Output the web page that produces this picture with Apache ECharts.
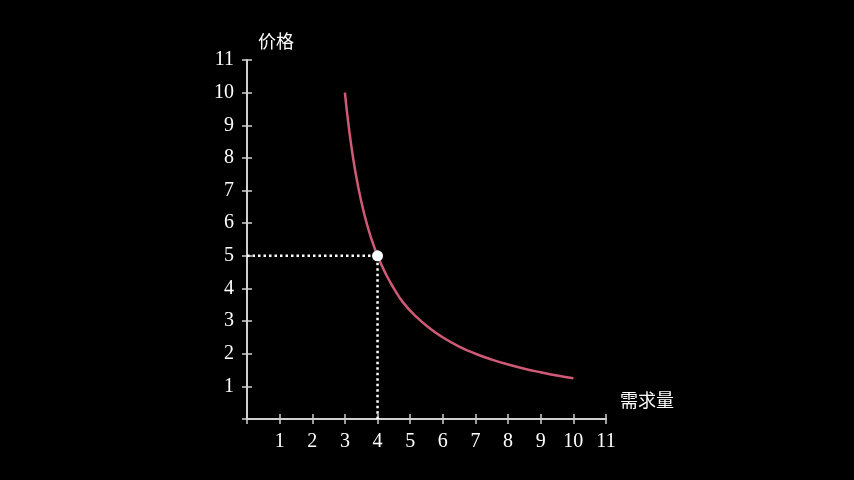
<!DOCTYPE html>
<html><head><meta charset="utf-8">
<script src="https://cdn.jsdelivr.net/npm/echarts@6/dist/echarts.min.js"></script>
<style>html,body{margin:0;padding:0;background:#000;}#c{width:854px;height:480px;}</style>
</head><body><div id="c"></div>
<script>
const xName = '需求量';
const yName = '价格';
const curveQ = [3, 3.1, 3.25, 3.4, 3.6, 3.8, 4, 4.25, 4.5, 4.8, 5.2, 5.6, 6, 6.5, 7, 7.5, 8, 8.5, 9, 9.5, 10];
const curveP = [10, 9.1, 8, 7.15, 6.25, 5.55, 5, 4.45, 4, 3.55, 3.12, 2.78, 2.5, 2.22, 2, 1.82, 1.67, 1.54, 1.43, 1.33, 1.25];
const pointQ = 4;
const pointP = 5;
const ticks = [1,2,3,4,5,6,7,8,9,10,11];

const font = '"Liberation Serif", "DejaVu Serif", serif';
const cjk = '"Noto Sans CJK SC", sans-serif';
const axisCol = '#d0d0d0';
const chart = echarts.init(document.getElementById('c'));
const base = {min:0, max:11, interval:1, splitLine:{show:false}};
chart.setOption({
  backgroundColor:'#000',
  animation:false,
  grid:{left:247, right:248, top:60, bottom:61},
  xAxis:[
    Object.assign({}, base, {type:'value', position:'bottom',
      axisLine:{lineStyle:{color:axisCol, width:2}},
      axisTick:{inside:false, length:5, lineStyle:{color:axisCol, width:1.5}},
      axisLabel:{color:'#fff', fontFamily:font, fontSize:20, margin:13,
        formatter: v => ticks.includes(v) ? String(v) : ''},
      name:xName, nameLocation:'end', nameGap:14,
      nameTextStyle:{color:'#fff', fontFamily:cjk, fontSize:18, verticalAlign:'bottom', padding:[0,0,10,0]}}),
    Object.assign({}, base, {type:'value', position:'bottom',
      axisLine:{show:false},
      axisTick:{inside:true, length:5, lineStyle:{color:axisCol, width:1.5}},
      axisLabel:{show:false}})
  ],
  yAxis:[
    Object.assign({}, base, {type:'value', position:'left',
      axisLine:{show:true, lineStyle:{color:axisCol, width:2}},
      axisTick:{show:true, inside:false, length:5, lineStyle:{color:axisCol, width:1.5}},
      axisLabel:{color:'#fff', fontFamily:font, fontSize:20, margin:13,
        formatter: v => ticks.includes(v) ? String(v) : ''},
      name:yName, nameLocation:'end', nameGap:10,
      nameTextStyle:{color:'#fff', fontFamily:cjk, fontSize:18, align:'left', padding:[0,0,0,11]}}),
    Object.assign({}, base, {type:'value', position:'left',
      axisLine:{show:false},
      axisTick:{show:true, inside:true, length:5, lineStyle:{color:axisCol, width:1.5}},
      axisLabel:{show:false}})
  ],
  series:[
    {type:'line', data:[[0,pointP],[pointQ,pointP],[pointQ,0]], symbol:'none',
     lineStyle:{color:'#fff', width:2.5, type:[2.5,3]}, z:2},
    {type:'line', smooth:true, data:curveQ.map((q,i)=>[q,curveP[i]]), symbol:'none',
     lineStyle:{color:'#cf5a75', width:2.5}, z:3},
    {type:'scatter', data:[[pointQ,pointP]], symbol:'circle', symbolSize:11,
     itemStyle:{color:'#fff', opacity:1}, z:4}
  ]
});
</script></body></html>
